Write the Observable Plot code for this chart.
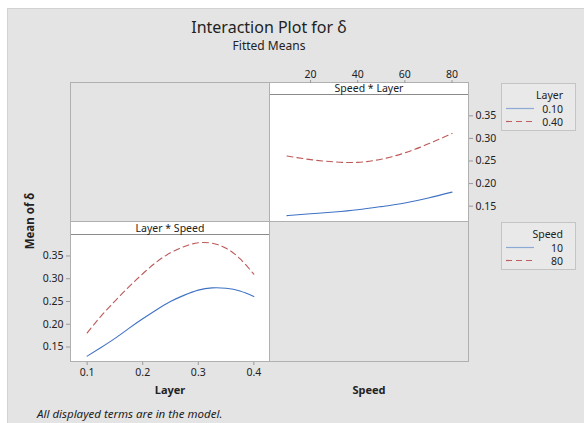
<!DOCTYPE html>
<html><head><meta charset="utf-8">
<script src="https://cdn.jsdelivr.net/npm/d3@7"></script>
<script src="https://cdn.jsdelivr.net/npm/@observablehq/plot@0.6"></script>
<style>
body{margin:0;background:#fff;font-family:"Noto Sans",sans-serif;color:#222}
#root{position:relative;width:584px;height:423px;overflow:hidden}
.a{position:absolute}
.t{position:absolute;white-space:nowrap;line-height:1}
.hdr{position:absolute;background:#fff;border-bottom:1px solid #8a8a8a;box-sizing:border-box;font-size:10.5px;text-align:center;line-height:12px}
.leg{position:absolute;border:1px solid #c4c4c4;background:#e9e9e9;box-sizing:border-box}
.lt{position:absolute;right:12px;font-size:10.5px;line-height:1;text-align:right}
</style></head><body><div id="root"></div>
<script>
// ---- data ----
const speeds = [10, 20, 30, 40, 50, 60, 70, 80];
const meanLayer010 = [0.129, 0.133, 0.137, 0.142, 0.149, 0.157, 0.168, 0.181];
const meanLayer040 = [0.261, 0.253, 0.248, 0.247, 0.254, 0.268, 0.288, 0.311];
const layers = [0.1, 0.125, 0.15, 0.175, 0.2, 0.225, 0.25, 0.275, 0.3, 0.325, 0.35, 0.375, 0.4];
const meanSpeed10 = [0.130, 0.149, 0.169, 0.191, 0.212, 0.232, 0.250, 0.264, 0.275, 0.280, 0.279, 0.273, 0.261];
const meanSpeed80 = [0.181, 0.218, 0.251, 0.282, 0.311, 0.337, 0.357, 0.371, 0.379, 0.378, 0.367, 0.344, 0.310];
const yTicks = [0.15, 0.20, 0.25, 0.30, 0.35];
const speedTicks = [20, 40, 60, 80];
const layerTicks = [0.1, 0.2, 0.3, 0.4];
const layerLegend = ["0.10", "0.40"];
const speedLegend = ["10", "80"];
const blue = "#3f72c4", red = "#b23c3c";

const root = document.getElementById("root");
function add(html){ root.insertAdjacentHTML("beforeend", html); }

// background and frame
add(`<div class="a" style="left:7px;top:8px;width:577px;height:415px;background:#e4e4e4;border-left:1px solid #d2d2d2;border-top:1px solid #d2d2d2;box-sizing:border-box"></div>`);
// panels
add(`<div class="a" style="left:270px;top:82px;width:198px;height:140px;background:#fff"></div>`);
add(`<div class="a" style="left:70px;top:222px;width:200px;height:139px;background:#fff"></div>`);
add(`<div class="hdr" style="left:270px;top:82px;width:198px;height:13px">Speed * Layer</div>`);
add(`<div class="hdr" style="left:70px;top:222px;width:200px;height:13px">Layer * Speed</div>`);
add(`<div class="a" style="left:70px;top:82px;width:399px;height:280px;border:1px solid #b0b0b0;box-sizing:border-box"></div>`);
add(`<div class="a" style="left:269px;top:82px;width:1px;height:280px;background:#b0b0b0"></div>`);
add(`<div class="a" style="left:70px;top:221px;width:399px;height:1px;background:#b0b0b0"></div>`);

// titles
add(`<div class="t" style="left:70px;width:398px;top:19px;text-align:center;font-size:16px">Interaction Plot for δ</div>`);
add(`<div class="t" style="left:70px;width:398px;top:40px;text-align:center;font-size:12px">Fitted Means</div>`);
add(`<div class="t" style="left:30px;top:221px;font-size:11.5px;font-weight:bold;transform:translate(-50%,-50%) rotate(-90deg)">Mean of δ</div>`);
add(`<div class="t" style="left:70px;width:200px;top:384px;text-align:center;font-size:11px;font-weight:bold">Layer</div>`);
add(`<div class="t" style="left:270px;width:198px;top:384px;text-align:center;font-size:11px;font-weight:bold">Speed</div>`);
add(`<div class="t" style="left:37px;top:408px;font-size:11.5px;font-style:italic">All displayed terms are in the model.</div>`);

// legends
function legend(top, title, labels){
  let h = `<div class="leg" style="left:501px;top:${top}px;width:75px;height:48px">`;
  h += `<div class="lt" style="top:6px">${title}</div>`;
  h += `<div class="lt" style="top:20px">${labels[0]}</div>`;
  h += `<div class="lt" style="top:33px">${labels[1]}</div>`;
  h += `<svg class="a" style="left:3px;top:0" width="30" height="48"><line x1="1" x2="29" y1="24.5" y2="24.5" stroke="${blue}" stroke-opacity="0.55" stroke-width="1.2"/><line x1="1" x2="29" y1="37.5" y2="37.5" stroke="${red}" stroke-opacity="0.8" stroke-width="1.2" stroke-dasharray="6,4"/></svg>`;
  h += `</div>`;
  add(h);
}
legend(83, "Layer", layerLegend);
legend(222, "Speed", speedLegend);

const st = {background:"transparent", fontFamily:"Noto Sans, sans-serif", fontSize:"10.5px", color:"#222", overflow:"visible"};

// top-right panel: Speed * Layer
const d010 = speeds.map((s,i)=>({x:s, y:meanLayer010[i]}));
const d040 = speeds.map((s,i)=>({x:s, y:meanLayer040[i]}));
const p1 = Plot.plot({
  width: 238, height: 156, marginTop: 30, marginRight: 40, marginLeft: 0, marginBottom: 0,
  style: st,
  x: {domain:[3, 87]}, y: {domain:[0.116, 0.395]},
  marks: [
    Plot.axisX(speedTicks, {anchor:"top", dy:-13, tickSize:3, tickPadding:2, label:null, stroke:"#999", fill:"#222"}),
    Plot.axisY(yTicks, {anchor:"right", tickSize:4, tickPadding:3, label:null, tickFormat:d3.format(".2f"), stroke:"#999", fill:"#222"}),
    Plot.line(d010, {x:"x", y:"y", stroke:blue, strokeWidth:1.1, curve:"natural"}),
    Plot.line(d040, {x:"x", y:"y", stroke:red, strokeWidth:1.1, strokeOpacity:0.85, strokeDasharray:"6,4", curve:"natural"})
  ]
});
p1.style.position = "absolute"; p1.style.left = "270px"; p1.style.top = "65px";
root.appendChild(p1);

// bottom-left panel: Layer * Speed
const d10 = layers.map((l,i)=>({x:l, y:meanSpeed10[i]}));
const d80 = layers.map((l,i)=>({x:l, y:meanSpeed80[i]}));
const p2 = Plot.plot({
  width: 245, height: 152, marginTop: 0, marginRight: 0, marginLeft: 45, marginBottom: 25,
  style: st,
  x: {domain:[0.07, 0.43]}, y: {domain:[0.116, 0.395]},
  marks: [
    Plot.axisX(layerTicks, {anchor:"bottom", tickSize:3, tickPadding:3, label:null, tickFormat:d3.format(".1f"), stroke:"#999", fill:"#222"}),
    Plot.axisY(yTicks, {anchor:"left", tickSize:4, tickPadding:3, label:null, tickFormat:d3.format(".2f"), stroke:"#999", fill:"#222"}),
    Plot.line(d10, {x:"x", y:"y", stroke:blue, strokeWidth:1.1, curve:"natural"}),
    Plot.line(d80, {x:"x", y:"y", stroke:red, strokeWidth:1.1, strokeOpacity:0.85, strokeDasharray:"6,4", curve:"natural"})
  ]
});
p2.style.position = "absolute"; p2.style.left = "25px"; p2.style.top = "235px";
root.appendChild(p2);
</script>
</body></html>
